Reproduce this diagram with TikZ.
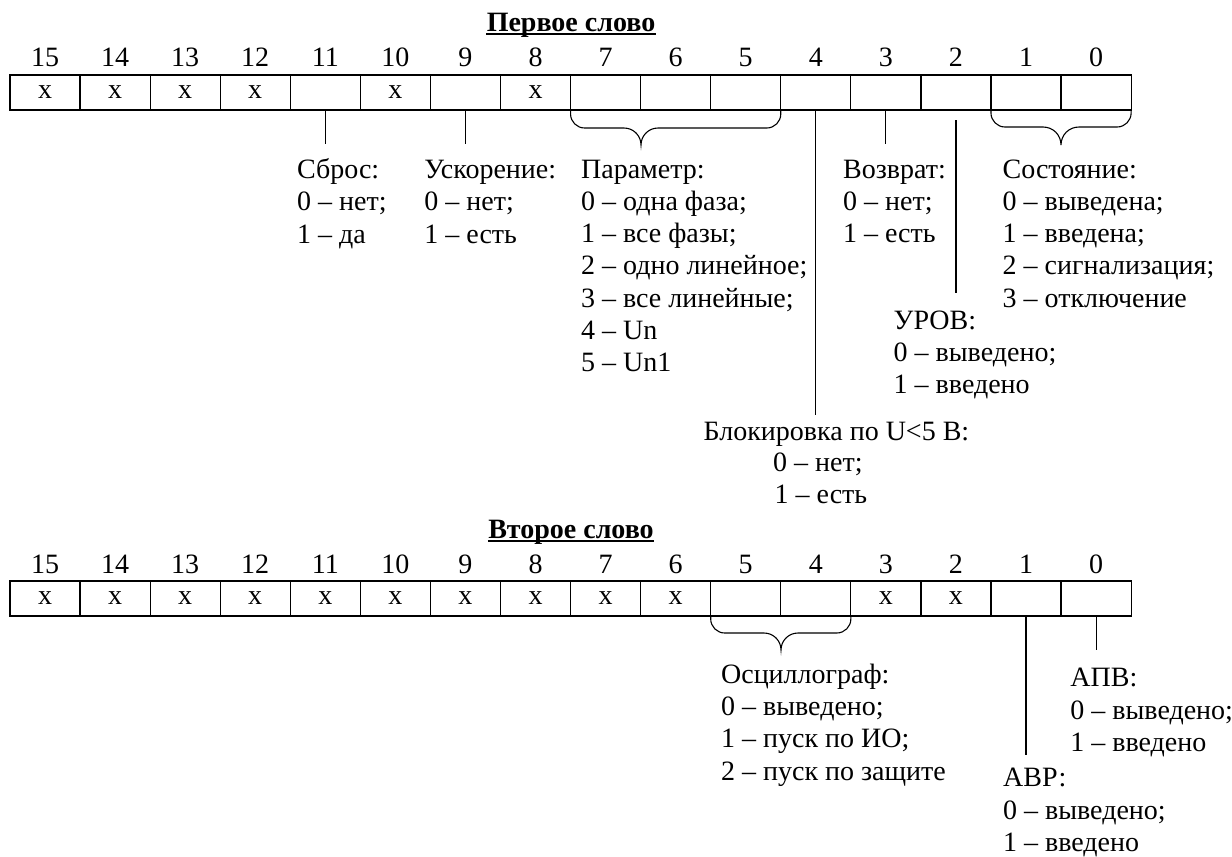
\documentclass[tikz,border=0pt]{standalone}
\usepackage{fontspec}
\setmainfont{Liberation Serif}
\newcommand\myfs{\fontsize{14pt}{16pt}\selectfont}
\begin{document}
\begin{tikzpicture}[x=0.5pt,y=-0.5pt,
  cell/.style={draw, line width=0.6pt, minimum width=35.035pt, minimum height=17.5pt, inner sep=0pt, outer sep=0pt, font=\myfs},
  num/.style={anchor=base, inner sep=0pt, font=\myfs},
  txt/.style={anchor=base west, inner sep=0pt, font=\myfs},
  ttl/.style={anchor=base, inner sep=0pt, font=\myfs\bfseries},
  conn/.style={line width=0.55pt},
  ul/.style={line width=0.9pt}]
\useasboundingbox (0,0) rectangle (1232,857);

% ---------- first word ----------
\node[ttl] (t1) at (571,31) {Первое слово};
\draw[ul] ([yshift=-1.3pt]t1.base west) -- ([yshift=-1.3pt]t1.base east);
\foreach \b/\t in {15/х,14/х,13/х,12/х,11/{},10/х,9/{},8/х,7/{},6/{},5/{},4/{},3/{},2/{},1/{},0/{}} {
  \node[cell] (a\b) at ({10+(15.5-\b)*70.07},92.5) {\t};
  \node[num] (an\b) at ({10+(15.5-\b)*70.07},66) {\b};
}

% connectors
\coordinate (e11) at (a11.south |- 0,144);
\coordinate (e9) at (a9.south |- 0,144);
\coordinate (e4) at (a4.south |- 0,415);
\coordinate (e3) at (a3.south |- 0,144);
\coordinate (s2) at (a2.south |- 0,120);
\coordinate (e2) at (a2.south |- 0,293);
\draw[conn] (a11.south) -- (e11);
\draw[conn] (a9.south) -- (e9);
\draw[conn] (a4.south) -- (e4);
\draw[conn] (a3.south) -- (e3);
\draw[conn] (s2) -- (e2);

% braces
\draw[conn] (a7.south west) -- (570.56,114) .. controls (570.56,121.7) and (576.86,128) .. (584.56,128)
  -- (624,128) .. controls (633.4,128) and (641,135.6) .. (641,145)
  .. controls (641,135.6) and (648.6,128) .. (658,128)
  -- (766.77,128) .. controls (774.47,128) and (780.77,121.7) .. (780.77,114) -- (a5.south east);
\draw[conn] (a1.south west) -- (990.98,113) .. controls (990.98,120.7) and (997.28,127) .. (1004.98,127)
  -- (1043,127) .. controls (1053.1,127) and (1061,134.9) .. (1061,145)
  .. controls (1061,134.9) and (1068.9,127) .. (1079,127)
  -- (1117.12,127) .. controls (1124.82,127) and (1131.12,120.7) .. (1131.12,113) -- (a0.south east);

% texts
\node[txt] (sb0) at (296.7,178) {Сброс:};
\node[txt] (sb1) at (296.7,210.5) {0 – нет;};
\node[txt] (sb2) at (296.7,243) {1 – да};

\node[txt] (us0) at (424,178) {Ускорение:};
\node[txt] (us1) at (424,210.5) {0 – нет;};
\node[txt] (us2) at (424,243) {1 – есть};

\node[txt] (pa0) at (580.7,178) {Параметр:};
\node[txt] (pa1) at (580.7,210.3) {0 – одна фаза;};
\node[txt] (pa2) at (580.7,242.6) {1 – все фазы;};
\node[txt] (pa3) at (580.7,274.9) {2 – одно линейное;};
\node[txt] (pa4) at (580.7,307.2) {3 – все линейные;};
\node[txt] (pa5) at (580.7,339.5) {4 – Un};
\node[txt] (pa6) at (580.7,371.8) {5 – Un1};

\node[txt] (vo0) at (842.7,178) {Возврат:};
\node[txt] (vo1) at (842.7,210.3) {0 – нет;};
\node[txt] (vo2) at (842.7,242.6) {1 – есть};

\node[txt] (so0) at (1002.3,178) {Состояние:};
\node[txt] (so1) at (1002.3,210.3) {0 – выведена;};
\node[txt] (so2) at (1002.3,242.6) {1 – введена;};
\node[txt] (so3) at (1002.3,274.9) {2 – сигнализация;};
\node[txt] (so4) at (1002.3,307.2) {3 – отключение};

\node[txt] (ur0) at (893.3,329) {УРОВ:};
\node[txt] (ur1) at (893.3,361.3) {0 – выведено;};
\node[txt] (ur2) at (893.3,393.6) {1 – введено};

\node[txt] (bl0) at (703.3,440) {Блокировка по U<5 В:};
\node[txt] (bl1) at (772.7,471.7) {0 – нет;};
\node[txt] (bl2) at (774.3,503.3) {1 – есть};

% ---------- second word ----------
\node[ttl] (t2) at (571,538.3) {Второе слово};
\draw[ul] ([yshift=-1.3pt]t2.base west) -- ([yshift=-1.3pt]t2.base east);
\foreach \b/\t in {15/х,14/х,13/х,12/х,11/х,10/х,9/х,8/х,7/х,6/х,5/{},4/{},3/х,2/х,1/{},0/{}} {
  \node[cell] (b\b) at ({10+(15.5-\b)*70.07},598.5) {\t};
  \node[num] (bn\b) at ({10+(15.5-\b)*70.07},573) {\b};
}

\coordinate (f1) at (b1.south |- 0,755);
\coordinate (f0) at (b0.south |- 0,650);
\draw[conn] (b1.south) -- (f1);
\draw[conn] (b0.south) -- (f0);

\draw[conn] (b5.south west) -- (710.7,619) .. controls (710.7,626.7) and (717,633) .. (724.7,633)
  -- (764,633) .. controls (773.4,633) and (781,640.6) .. (781,650)
  .. controls (781,640.6) and (788.6,633) .. (798,633)
  -- (836.84,633) .. controls (844.54,633) and (850.84,626.7) .. (850.84,619) -- (b4.south east);

\node[txt] (os0) at (720.7,683.3) {Осциллограф:};
\node[txt] (os1) at (720.7,715.6) {0 – выведено;};
\node[txt] (os2) at (720.7,747.9) {1 – пуск по ИО;};
\node[txt] (os3) at (720.7,780.2) {2 – пуск по защите};

\node[txt] (ap0) at (1070,686.7) {АПВ:};
\node[txt] (ap1) at (1070,719) {0 – выведено;};
\node[txt] (ap2) at (1070,751.3) {1 – введено};

\node[txt] (av0) at (1002.7,786.7) {АВР:};
\node[txt] (av1) at (1002.7,819) {0 – выведено;};
\node[txt] (av2) at (1002.7,851.3) {1 – введено};
\end{tikzpicture}
\end{document}
